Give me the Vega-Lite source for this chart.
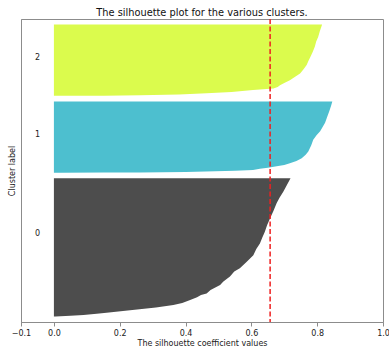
{
  "$schema": "https://vega.github.io/schema/vega-lite/v6.json",
  "width": 362,
  "height": 303,
  "autosize": {"type": "none"},
  "padding": {"left": 21, "top": 19, "right": 6, "bottom": 25},
  "background": "white",
  "title": {"text": "The silhouette plot for the various clusters.", "fontSize": 9.8, "font": "DejaVu Sans", "fontWeight": "normal", "color": "#111", "offset": 4, "dy": 4},
  "config": {
    "view": {"stroke": "#8c8c8c", "strokeWidth": 1},
    "font": "DejaVu Sans"
  },
  "datasets": {
    "sil": [
      {"cluster": "0", "pos": 10, "s": 0.005},
      {"cluster": "0", "pos": 11, "s": 0.05},
      {"cluster": "0", "pos": 12.5, "s": 0.09},
      {"cluster": "0", "pos": 14.5, "s": 0.13},
      {"cluster": "0", "pos": 16.6, "s": 0.16},
      {"cluster": "0", "pos": 19.5, "s": 0.21},
      {"cluster": "0", "pos": 22.6, "s": 0.26},
      {"cluster": "0", "pos": 26, "s": 0.31},
      {"cluster": "0", "pos": 30.3, "s": 0.363},
      {"cluster": "0", "pos": 34, "s": 0.39},
      {"cluster": "0", "pos": 39, "s": 0.414},
      {"cluster": "0", "pos": 44, "s": 0.435},
      {"cluster": "0", "pos": 48, "s": 0.447},
      {"cluster": "0", "pos": 51, "s": 0.464},
      {"cluster": "0", "pos": 57, "s": 0.476},
      {"cluster": "0", "pos": 66, "s": 0.505},
      {"cluster": "0", "pos": 72, "s": 0.515},
      {"cluster": "0", "pos": 81, "s": 0.535},
      {"cluster": "0", "pos": 90, "s": 0.548},
      {"cluster": "0", "pos": 96, "s": 0.565},
      {"cluster": "0", "pos": 107.5, "s": 0.586},
      {"cluster": "0", "pos": 119, "s": 0.606},
      {"cluster": "0", "pos": 130, "s": 0.615},
      {"cluster": "0", "pos": 140, "s": 0.626},
      {"cluster": "0", "pos": 150, "s": 0.633},
      {"cluster": "0", "pos": 161, "s": 0.641},
      {"cluster": "0", "pos": 173, "s": 0.648},
      {"cluster": "0", "pos": 185, "s": 0.657},
      {"cluster": "0", "pos": 198, "s": 0.667},
      {"cluster": "0", "pos": 212, "s": 0.677},
      {"cluster": "0", "pos": 222, "s": 0.686},
      {"cluster": "0", "pos": 232, "s": 0.697},
      {"cluster": "0", "pos": 244, "s": 0.708},
      {"cluster": "0", "pos": 256, "s": 0.719},
      {"cluster": "1", "pos": 266, "s": 0.02},
      {"cluster": "1", "pos": 266.3, "s": 0.15},
      {"cluster": "1", "pos": 266.6, "s": 0.26},
      {"cluster": "1", "pos": 267.5, "s": 0.40},
      {"cluster": "1", "pos": 268, "s": 0.46},
      {"cluster": "1", "pos": 269.5, "s": 0.55},
      {"cluster": "1", "pos": 271, "s": 0.605},
      {"cluster": "1", "pos": 273, "s": 0.626},
      {"cluster": "1", "pos": 275, "s": 0.65},
      {"cluster": "1", "pos": 277.5, "s": 0.677},
      {"cluster": "1", "pos": 280, "s": 0.70},
      {"cluster": "1", "pos": 283, "s": 0.717},
      {"cluster": "1", "pos": 287, "s": 0.737},
      {"cluster": "1", "pos": 292, "s": 0.753},
      {"cluster": "1", "pos": 298, "s": 0.765},
      {"cluster": "1", "pos": 304, "s": 0.773},
      {"cluster": "1", "pos": 315, "s": 0.782},
      {"cluster": "1", "pos": 325, "s": 0.788},
      {"cluster": "1", "pos": 333, "s": 0.798},
      {"cluster": "1", "pos": 340, "s": 0.809},
      {"cluster": "1", "pos": 348, "s": 0.817},
      {"cluster": "1", "pos": 355, "s": 0.824},
      {"cluster": "1", "pos": 365, "s": 0.83},
      {"cluster": "1", "pos": 376, "s": 0.837},
      {"cluster": "1", "pos": 385, "s": 0.842},
      {"cluster": "1", "pos": 393, "s": 0.846},
      {"cluster": "2", "pos": 403, "s": 0.02},
      {"cluster": "2", "pos": 403.3, "s": 0.15},
      {"cluster": "2", "pos": 404, "s": 0.262},
      {"cluster": "2", "pos": 405.5, "s": 0.38},
      {"cluster": "2", "pos": 407.7, "s": 0.464},
      {"cluster": "2", "pos": 410, "s": 0.54},
      {"cluster": "2", "pos": 413.5, "s": 0.605},
      {"cluster": "2", "pos": 414.5, "s": 0.626},
      {"cluster": "2", "pos": 416, "s": 0.667},
      {"cluster": "2", "pos": 419, "s": 0.68},
      {"cluster": "2", "pos": 422, "s": 0.687},
      {"cluster": "2", "pos": 426, "s": 0.70},
      {"cluster": "2", "pos": 431, "s": 0.717},
      {"cluster": "2", "pos": 437, "s": 0.733},
      {"cluster": "2", "pos": 443, "s": 0.748},
      {"cluster": "2", "pos": 450, "s": 0.758},
      {"cluster": "2", "pos": 458, "s": 0.768},
      {"cluster": "2", "pos": 466, "s": 0.774},
      {"cluster": "2", "pos": 473, "s": 0.780},
      {"cluster": "2", "pos": 482, "s": 0.787},
      {"cluster": "2", "pos": 491, "s": 0.793},
      {"cluster": "2", "pos": 500, "s": 0.797},
      {"cluster": "2", "pos": 508, "s": 0.803},
      {"cluster": "2", "pos": 518, "s": 0.808},
      {"cluster": "2", "pos": 530, "s": 0.815}
    ],
    "labels": [
      {"cluster": "0", "lx": -0.05, "ly": 157},
      {"cluster": "1", "lx": -0.05, "ly": 333},
      {"cluster": "2", "lx": -0.05, "ly": 470}
    ],
    "avg": [{"avg": 0.657}]
  },
  "layer": [
    {
      "data": {"name": "sil"},
      "mark": {"type": "area", "orient": "horizontal", "interpolate": "linear"},
      "encoding": {
        "y": {"field": "pos", "type": "quantitative", "scale": {"domain": [0, 540], "nice": false, "zero": false},
              "axis": {"title": "Cluster label", "ticks": false, "labels": false, "grid": false, "domainColor": "#8c8c8c", "titleFontSize": 8, "titleFontWeight": "normal", "titleColor": "#222", "titlePadding": 5}},
        "x": {"field": "s", "type": "quantitative", "scale": {"domain": [-0.1, 1.0], "nice": false, "zero": false},
              "axis": {"title": "The silhouette coefficient values", "values": [-0.1, 0, 0.2, 0.4, 0.6, 0.8, 1.0], "format": ".1f", "grid": false,
                       "domainColor": "#8c8c8c", "tickColor": "#8c8c8c", "tickSize": 4, "labelFontSize": 8, "labelColor": "#222", "labelPadding": 3,
                       "labelFlush": false, "labelBound": false, "labelOverlap": false,
                       "titleFontSize": 8, "titleFontWeight": "normal", "titleColor": "#222", "titlePadding": 2}},
        "x2": {"datum": 0},
        "color": {"field": "cluster", "type": "nominal", "scale": {"domain": ["0", "1", "2"], "range": ["#4d4d4d", "#4dbfcf", "#dbfb4d"]}, "legend": null}
      }
    },
    {
      "data": {"name": "labels"},
      "mark": {"type": "text", "fontSize": 8, "color": "#222", "baseline": "middle", "align": "center"},
      "encoding": {
        "x": {"field": "lx", "type": "quantitative"},
        "y": {"field": "ly", "type": "quantitative"},
        "text": {"field": "cluster"}
      }
    },
    {
      "data": {"name": "avg"},
      "mark": {"type": "rule", "color": "#ee2020", "strokeWidth": 1.5, "strokeDash": [5, 2.5]},
      "encoding": {
        "x": {"field": "avg", "type": "quantitative"}
      }
    }
  ]
}
